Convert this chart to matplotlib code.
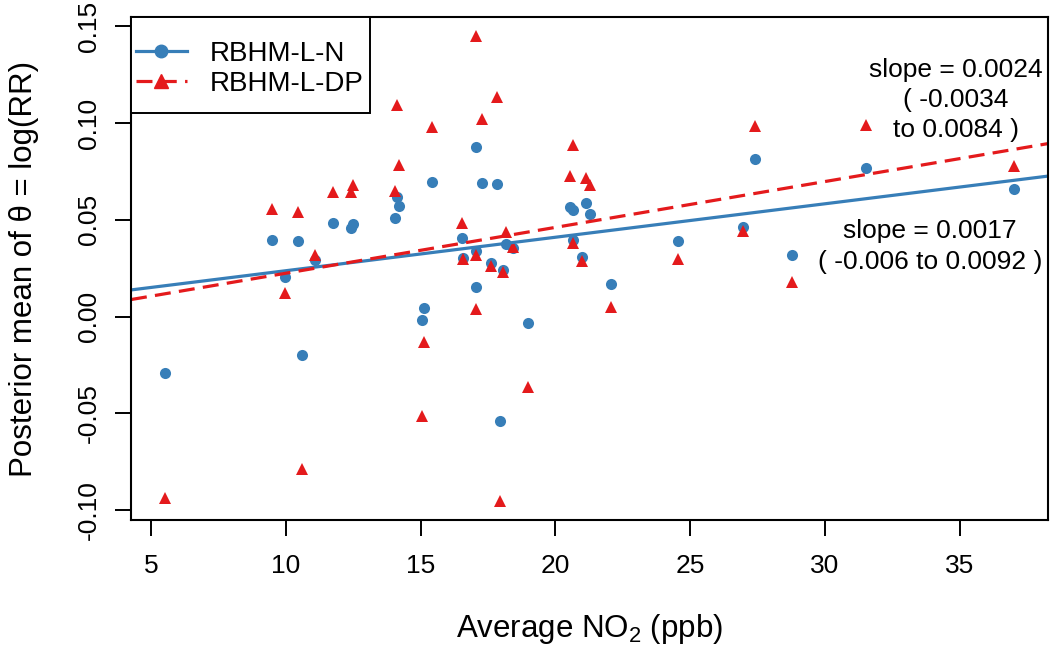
import numpy as np
import matplotlib
matplotlib.use('Agg')
import matplotlib.pyplot as plt
from matplotlib.lines import Line2D
from matplotlib.patches import Rectangle

plt.rcParams['font.family'] = ['Liberation Sans', 'DejaVu Sans']
plt.rcParams['mathtext.fontset'] = 'custom'
plt.rcParams['mathtext.rm'] = 'Liberation Sans'
plt.rcParams['mathtext.it'] = 'Liberation Sans:italic'

# average NO2 per city (ppb)
no2 = [5.52, 9.48, 9.97, 10.44, 10.59, 11.09, 11.76, 12.41, 12.50, 14.05,
       14.13, 14.20, 15.07, 15.13, 15.43, 16.54, 16.56, 17.04, 17.07, 17.04,
       17.28, 17.63, 17.84, 17.95, 18.04, 18.16, 18.43, 18.97, 20.53, 20.65,
       20.65, 21.00, 21.12, 21.27, 22.07, 24.54, 26.96, 27.39, 28.78, 31.53,
       37.01]

# posterior mean log(RR), normal random effects
theta_n = [-0.0291, 0.0398, 0.0203, 0.0393, -0.0197, 0.0293, 0.0485, 0.0457,
           0.0476, 0.0507, 0.0616, 0.0569, -0.0017, 0.0045, 0.0697, 0.0405,
           0.0302, 0.0878, 0.0340, 0.0152, 0.0690, 0.0279, 0.0685, -0.0538,
           0.0242, 0.0374, 0.0357, -0.0031, 0.0567, 0.0550, 0.0395, 0.0309,
           0.0585, 0.0529, 0.0166, 0.0393, 0.0462, 0.0816, 0.0316, 0.0766,
           0.0661]

# posterior mean log(RR), Dirichlet process random effects
theta_dp = [-0.0938, 0.0557, 0.0121, 0.0543, -0.0788, 0.0316, 0.0643, 0.0643,
            0.0681, 0.0650, 0.1095, 0.0785, -0.0512, -0.0133, 0.0978, 0.0486,
            0.0297, 0.1452, 0.0319, 0.0040, 0.1020, 0.0262, 0.1133, -0.0955,
            0.0228, 0.0435, 0.0360, -0.0362, 0.0728, 0.0888, 0.0378, 0.0285,
            0.0716, 0.0681, 0.0052, 0.0296, 0.0440, 0.0985, 0.0181, 0.0988,
            0.0778]

# fitted regression lines (intercept, slope)
fit_n = (0.0064, 0.00173)
fit_dp = (-0.0013, 0.00237)

labels = ['RBHM-L-N', 'RBHM-L-DP']
blue = '#377EB8'
red = '#E41A1C'

fig = plt.figure(figsize=(10.5, 6.48), dpi=100)
ax = fig.add_axes([131 / 1050, 1 - 520 / 648, (1048 - 131) / 1050, (520 - 17) / 648])

ax.plot(no2, theta_n, 'o', color=blue, markersize=8, markeredgewidth=0)
ax.plot(no2, theta_dp, '^', color=red, markersize=9, markeredgewidth=0)

ax.axline((0, fit_n[0]), slope=fit_n[1], color=blue, lw=2.3)
ax.axline((0, fit_dp[0]), slope=fit_dp[1], color=red, lw=2.3, dashes=(5, 2.6))

# R style 4% padding
xr = max(no2) - min(no2)
ax.set_xlim(min(no2) - 0.04 * xr, max(no2) + 0.04 * xr)
ymin = min(min(theta_n), min(theta_dp))
ymax = max(max(theta_n), max(theta_dp))
yr = ymax - ymin
ax.set_ylim(ymin - 0.04 * yr, ymax + 0.04 * yr)

ax.set_xticks([5, 10, 15, 20, 25, 30, 35])
ax.set_yticks([-0.10, -0.05, 0.00, 0.05, 0.10, 0.15])
ax.set_yticklabels(['-0.10', '-0.05', '0.00', '0.05', '0.10', '0.15'],
                   rotation=90, va='center')
ax.tick_params(length=11.5, width=1.4, labelsize=19)
ax.tick_params(axis='x', pad=13)
ax.tick_params(axis='y', pad=10)
for s in ax.spines.values():
    s.set_linewidth(1.5)

ax.set_xlabel('Average NO$_2$ (ppb)', fontsize=22.5)
ax.set_ylabel('Posterior mean of θ = log(RR)', fontsize=22.5)
ax.xaxis.set_label_coords(0.5, -0.183)
ax.yaxis.set_label_coords(-0.10, 0.5)

ax.text(34.85, 0.112, 'slope = 0.0024\n( -0.0034\nto 0.0084 )', fontsize=19,
        ha='center', va='center', multialignment='center', linespacing=1.32)
ax.text(33.9, 0.0362, 'slope = 0.0017\n( -0.006 to 0.0092 )', fontsize=19,
        ha='center', va='center', multialignment='center', linespacing=1.32)

# legend box drawn flush with the top-left corner, like R's legend("topleft")
ax.add_patch(Rectangle((0, 1 - 96 / 503), 239 / 917, 96 / 503, transform=ax.transAxes,
                       facecolor='white', edgecolor='black', lw=1.4, zorder=4.9,
                       clip_on=False))
handles = [Line2D([], [], color=blue, lw=2.3, marker='o', markersize=9),
           Line2D([], [], color=red, lw=2.3, dashes=(5, 2.6), marker='^', markersize=10)]
leg = ax.legend(handles, labels, loc='upper left', bbox_to_anchor=(5 / 917, 1 - 24 / 503),
                borderaxespad=0, borderpad=0, frameon=False,
                fontsize=20, handlelength=1.83, handletextpad=0.83, labelspacing=0.15,
                numpoints=1)
leg.set_zorder(5)

fig.savefig('out.png', dpi=100)
